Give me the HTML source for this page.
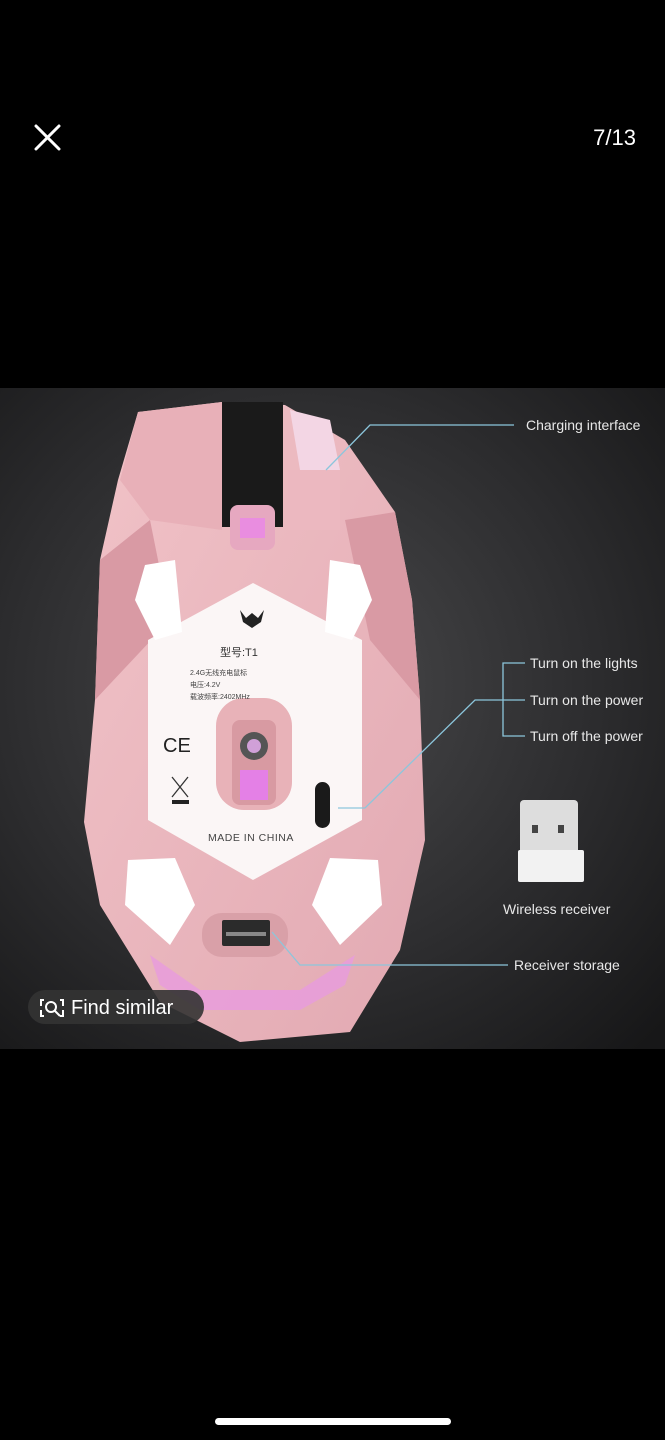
<!DOCTYPE html>
<html><head><meta charset="utf-8"><style>
html,body{margin:0;padding:0;background:#000;width:665px;height:1440px;overflow:hidden;font-family:"Liberation Sans","Noto Sans CJK SC",sans-serif}
.abs{position:absolute}
</style></head><body>
<div class="abs" style="left:0;top:0;width:665px;height:1440px;background:#000"></div>
<svg class="abs" style="left:0;top:0" width="665" height="1440" viewBox="0 0 665 1440">
<defs>
<radialGradient id="bg" cx="0.45" cy="0.45" r="0.75">
<stop offset="0" stop-color="#4a4a4c"/><stop offset="0.6" stop-color="#2c2c2e"/><stop offset="1" stop-color="#171718"/>
</radialGradient>
<linearGradient id="pk" x1="0" y1="0" x2="1" y2="1">
<stop offset="0" stop-color="#f1c3c8"/><stop offset="1" stop-color="#e2a9b2"/>
</linearGradient>
</defs>
<rect x="0" y="388" width="665" height="661" fill="url(#bg)"/>
<!-- X -->
<path d="M36 126 L59 149 M59 126 L36 149" stroke="#fff" stroke-width="3" stroke-linecap="round"/>
<!-- mouse body -->
<polygon points="138,412 222,402 285,405 345,440 395,512 412,600 420,700 425,840 400,950 350,1032 240,1042 160,1002 100,905 84,822 95,700 100,560 118,480" fill="url(#pk)"/>
<polygon points="150,520 222,530 222,402 138,412 120,480" fill="#e8b0b8"/>
<polygon points="100,560 150,520 170,620 95,700" fill="#d99aa4"/>
<polygon points="395,512 412,600 420,700 370,640 345,520" fill="#d99aa4"/>
<polygon points="148,640 253,583 362,640 362,820 253,880 148,820" fill="#fbf6f6"/>
<rect x="222" y="402" width="61" height="125" fill="#1a1a1a"/>
<rect x="230" y="505" width="45" height="45" rx="8" fill="#e6a8c0"/>
<rect x="240" y="518" width="25" height="20" fill="#e98de0"/>
<rect x="288" y="470" width="52" height="60" fill="#ecb8c0"/>
<polygon points="290,410 330,420 340,470 300,470" fill="#f3d6e4"/>
<!-- feet -->
<polygon points="145,565 175,560 182,632 155,640 135,600" fill="#fff"/>
<polygon points="330,560 360,565 372,600 352,640 325,632" fill="#fff"/>
<polygon points="128,860 175,858 195,905 170,945 125,905" fill="#fff"/>
<polygon points="330,858 378,860 382,905 340,945 312,905" fill="#fff"/>
<!-- sensor -->
<rect x="216" y="698" width="76" height="112" rx="28" fill="#e8b2b8"/>
<rect x="232" y="720" width="44" height="85" rx="8" fill="#d89aa2"/>
<circle cx="254" cy="746" r="14" fill="#555"/><circle cx="254" cy="746" r="7" fill="#d0a0d8"/>
<rect x="240" y="770" width="28" height="30" fill="#e480e6"/>
<!-- switch -->
<rect x="315" y="782" width="15" height="46" rx="7.5" fill="#1a1a1a"/>
<!-- receiver slot -->
<rect x="202" y="913" width="86" height="44" rx="20" fill="#d9a0a8"/>
<rect x="222" y="920" width="48" height="26" rx="2" fill="#2b2b2b"/>
<rect x="226" y="932" width="40" height="4" fill="#888"/>
<!-- bottom glow -->
<polygon points="150,955 200,990 300,990 355,955 345,985 300,1010 200,1010 160,985" fill="#e89cdc" opacity="0.85"/>
<!-- label text -->
<path d="M240 610 l6 8 l6 -5 l6 5 l6 -8 l-3 12 l-9 6 l-9 -6z" fill="#222"/>
<text x="220" y="656" font-size="11" fill="#333">型号:T1</text>
<text x="190" y="675" font-size="7" fill="#444">2.4G无线充电鼠标</text>
<text x="190" y="687" font-size="7" fill="#444">电压:4.2V</text>
<text x="190" y="699" font-size="7" fill="#444">载波频率:2402MHz</text>
<text x="163" y="752" font-size="20" fill="#222">CE</text>
<path d="M172 777 l16 20 M188 777 l-16 20" stroke="#333" stroke-width="1.3"/>
<rect x="172" y="800" width="17" height="4" fill="#222"/>
<text x="208" y="841" font-size="10.5" fill="#444" letter-spacing="0.5">MADE IN CHINA</text>
<!-- connector lines -->
<g stroke="#8cc6dc" stroke-width="1.3" fill="none">
<polyline points="326,470 370,425 514,425"/>
<polyline points="338,808 365,808 475,700 503,700"/>
<polyline points="525,663 503,663 503,736 525,736"/>
<line x1="503" y1="700" x2="525" y2="700"/>
<polyline points="272,932 300,965 508,965"/>
</g>
<g fill="#e8e8e8" font-size="14">
<text x="526" y="430">Charging interface</text>
<text x="530" y="668">Turn on the lights</text>
<text x="530" y="705">Turn on the power</text>
<text x="530" y="741">Turn off the power</text>
<text x="503" y="914">Wireless receiver</text>
<text x="514" y="970">Receiver storage</text>
</g>
<!-- dongle -->
<rect x="520" y="800" width="58" height="55" rx="4" fill="#ddd"/>
<rect x="518" y="850" width="66" height="32" rx="2" fill="#f2f2f2"/>
<rect x="532" y="825" width="6" height="8" fill="#444"/><rect x="558" y="825" width="6" height="8" fill="#444"/>
<!-- find similar -->
<rect x="28" y="990" width="176" height="34" rx="17" fill="#333" opacity="0.9"/>
<g stroke="#fff" stroke-width="2" fill="none">
<path d="M44 1000 h-3 v6 M60 1000 h3 v6 M44 1016 h-3 v-6 M60 1016 h3 v-6"/>
<circle cx="51" cy="1007" r="5"/><path d="M55 1011 l5 5"/>
</g>
<text x="71" y="1014" font-size="20" fill="#fff">Find similar</text>
<text x="636" y="145" font-size="22" fill="#fff" text-anchor="end">7/13</text>
<rect x="215" y="1418" width="236" height="7" rx="3.5" fill="#fff"/>
</svg>
</body></html>
